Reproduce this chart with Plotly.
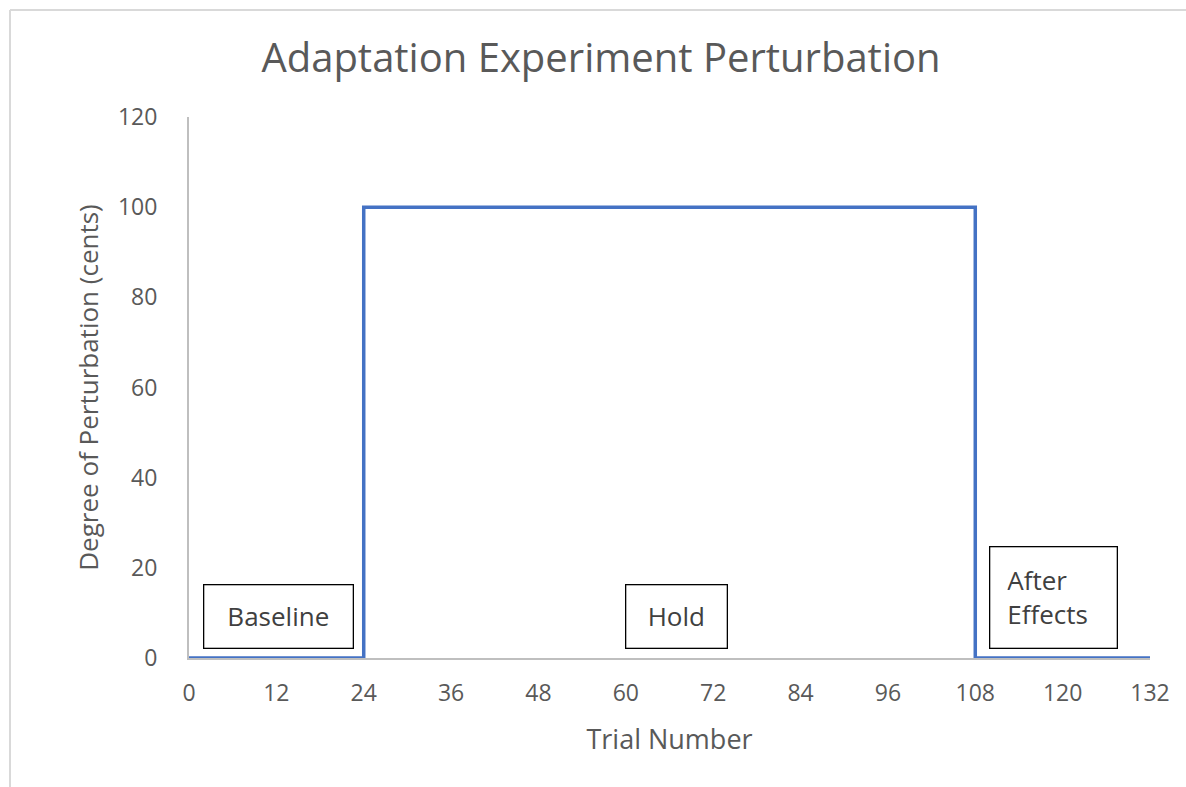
import plotly.graph_objects as go

# Data
trial = [0, 24, 24, 108, 108, 132]
perturbation = [0, 0, 100, 100, 0, 0]
x_ticks = [0, 12, 24, 36, 48, 60, 72, 84, 96, 108, 120, 132]
y_ticks = [0, 20, 40, 60, 80, 100, 120]
phase_labels = ["Baseline", "Hold", "After<br>Effects"]
phase_x = [12.36, 67.0, 118.7]
phase_y = [9.3, 9.1, 13.5]

W, H = 1186, 787
L, R, T, B = 189, 36, 117, 129
pw, ph = W - L - R, H - T - B

def px_x(p):
    return (p - L) / pw

def px_y(p):
    return (H - B - p) / ph

fig = go.Figure()
fig.add_trace(go.Scatter(x=trial, y=perturbation, mode="lines",
                         line=dict(color="#4472C4", width=3.5), showlegend=False,
                         cliponaxis=False))

font = "Open Sans, Liberation Sans, sans-serif"
fig.update_layout(
    width=W, height=H,
    margin=dict(l=L, r=R, t=T, b=B),
    paper_bgcolor="white", plot_bgcolor="white",
    title=dict(text="Adaptation Experiment Perturbation", x=601 / W, xanchor="center",
               xref="container", y=1 - 58 / H, yanchor="middle",
               font=dict(family=font, size=40, color="#595959")),
    xaxis=dict(range=[0, 132], tickvals=x_ticks, ticktext=[str(v) for v in x_ticks],
               showgrid=False, zeroline=False, showline=True, linecolor="#BFBFBF",
               linewidth=2, ticks="", tickfont=dict(family=font, size=23, color="#595959"),
               ticklabelstandoff=13,
               title=dict(text="Trial Number", font=dict(family=font, size=27, color="#595959"),
                          standoff=24)),
    yaxis=dict(range=[0, 120], tickvals=y_ticks, ticktext=[str(v) for v in y_ticks],
               showgrid=False, zeroline=False, showline=True, linecolor="#BFBFBF",
               linewidth=2, ticks="", tickfont=dict(family=font, size=23, color="#595959"),
               ticklabelstandoff=25,
               title=dict(text="Degree of Perturbation (cents)",
                          font=dict(family=font, size=26, color="#595959"), standoff=12)),
)

box_w = [148, 100, 92]
box_h = [62, 62, 66]
box_pad = [0, 0, 17]
box_align = ["center", "center", "left"]
for lab, xv, yv, bw, bh, bp, al in zip(phase_labels, phase_x, phase_y, box_w, box_h, box_pad, box_align):
    fig.add_annotation(x=xv, y=yv, text=lab, showarrow=False, align=al,
                       font=dict(family=font, size=26, color="#404040"),
                       bordercolor="black", borderwidth=1.3, bgcolor="white",
                       borderpad=bp, width=bw, height=bh)

# chart area border (top and left edges visible)
fig.add_shape(type="line", xref="paper", yref="paper",
              x0=px_x(10), x1=px_x(W + 5), y0=px_y(10), y1=px_y(10),
              line=dict(color="#D9D9D9", width=2))
fig.add_shape(type="line", xref="paper", yref="paper",
              x0=px_x(10), x1=px_x(10), y0=px_y(10), y1=px_y(H + 5),
              line=dict(color="#D9D9D9", width=2))

fig.write_html("out.html", config={"displayModeBar": False},
               post_script="document.body.style.margin='0';")
